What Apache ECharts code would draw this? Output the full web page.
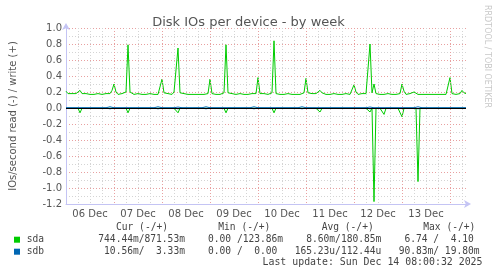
<!DOCTYPE html>
<html>
<head>
<meta charset="utf-8">
<script src="https://cdn.jsdelivr.net/npm/echarts@6/dist/echarts.min.js"></script>
<style>
html,body{margin:0;padding:0;background:#fff;}
#chart{width:497px;height:276px;}
</style>
</head>
<body>
<div id="chart"></div>
<script>
// ---- data (hourly samples, hour 0 = 06 Dec 00:00, hour 200 = 14 Dec 08:00) ----
const sdaWrite = [
  0.21,0.18,0.17,0.18,0.17,0.18,0.19,0.22,0.18,0.17,0.18,0.17,0.17,0.18,0.17,0.17,0.18,0.17,0.17,0.17,0.18,0.17,0.18,0.22,
  0.30,0.20,0.17,0.17,0.18,0.17,0.20,0.79,0.20,0.18,0.17,0.17,0.18,0.17,0.17,0.18,0.17,0.17,0.18,0.17,0.17,0.18,0.17,0.19,
  0.36,0.19,0.17,0.18,0.17,0.17,0.20,0.18,0.75,0.19,0.17,0.18,0.17,0.17,0.18,0.17,0.18,0.17,0.17,0.17,0.18,0.17,0.17,0.18,
  0.36,0.18,0.17,0.17,0.18,0.17,0.18,0.19,0.79,0.19,0.17,0.18,0.17,0.17,0.17,0.18,0.17,0.17,0.18,0.17,0.17,0.18,0.17,0.18,
  0.38,0.18,0.17,0.18,0.17,0.17,0.18,0.19,0.84,0.18,0.17,0.17,0.18,0.17,0.17,0.18,0.17,0.17,0.18,0.17,0.17,0.17,0.18,0.19,
  0.37,0.19,0.17,0.18,0.17,0.18,0.19,0.22,0.19,0.20,0.17,0.18,0.17,0.17,0.18,0.17,0.17,0.18,0.17,0.17,0.18,0.17,0.17,0.18,
  0.29,0.20,0.17,0.17,0.18,0.17,0.18,0.19,0.80,0.19,0.30,0.18,0.17,0.17,0.18,0.17,0.17,0.18,0.17,0.17,0.18,0.17,0.17,0.18,
  0.30,0.21,0.17,0.17,0.18,0.17,0.20,0.18,0.17,0.18,0.17,0.18,0.17,0.17,0.17,0.18,0.17,0.17,0.17,0.18,0.17,0.17,0.17,0.18,
  0.38,0.18,0.17,0.17,0.17,0.18,0.22,0.19,0.18
];
const sdaRead = [
  0.004,0.003,0.004,0.005,0.004,0.003,0.004,0.06,0.004,0.003,0.004,0.004,0.005,0.004,0.003,0.004,0.004,0.003,0.004,0.005,0.004,0.003,0.004,0.004,
  0.004,0.003,0.004,0.004,0.005,0.004,0.003,0.06,0.004,0.003,0.004,0.004,0.005,0.004,0.003,0.004,0.004,0.003,0.004,0.005,0.004,0.003,0.004,0.004,
  0.004,0.003,0.004,0.004,0.005,0.004,0.003,0.004,0.06,0.003,0.004,0.004,0.005,0.004,0.003,0.004,0.004,0.003,0.004,0.005,0.004,0.003,0.004,0.004,
  0.004,0.003,0.004,0.004,0.005,0.004,0.003,0.004,0.06,0.003,0.004,0.004,0.005,0.004,0.003,0.004,0.004,0.003,0.004,0.005,0.004,0.003,0.004,0.004,
  0.004,0.003,0.004,0.004,0.005,0.004,0.003,0.004,0.06,0.003,0.004,0.004,0.005,0.004,0.003,0.004,0.004,0.003,0.004,0.005,0.004,0.003,0.004,0.004,
  0.004,0.003,0.004,0.004,0.005,0.004,0.003,0.05,0.004,0.003,0.004,0.004,0.005,0.004,0.003,0.004,0.004,0.003,0.004,0.005,0.004,0.003,0.004,0.004,
  0.004,0.003,0.004,0.004,0.005,0.004,0.003,0.004,0.05,0.003,1.17,0.004,0.005,0.004,0.003,0.08,0.004,0.003,0.004,0.005,0.004,0.003,0.004,0.004,
  0.11,0.003,0.004,0.004,0.005,0.004,0.003,0.004,0.92,0.003,0.004,0.004,0.005,0.004,0.003,0.004,0.004,0.003,0.004,0.005,0.004,0.003,0.004,0.004,
  0.004,0.003,0.004,0.004,0.005,0.004,0.003,0.004,0.004
];
const sdbWrite = [
  0.003,0.003,0.003,0.003,0.003,0.003,0.003,0.003,0.003,0.003,0.003,0.003,0.003,0.003,0.003,0.003,0.003,0.003,0.003,0.003,0.003,0.003,0.015,0.003,
  0.003,0.003,0.003,0.003,0.003,0.003,0.003,0.003,0.003,0.003,0.003,0.003,0.003,0.003,0.003,0.003,0.003,0.003,0.003,0.003,0.003,0.003,0.015,0.003,
  0.003,0.003,0.003,0.003,0.003,0.003,0.003,0.003,0.012,0.003,0.003,0.003,0.003,0.003,0.003,0.003,0.003,0.003,0.003,0.003,0.003,0.003,0.015,0.003,
  0.003,0.003,0.003,0.003,0.003,0.003,0.003,0.003,0.003,0.003,0.003,0.003,0.003,0.003,0.003,0.003,0.003,0.003,0.003,0.003,0.003,0.003,0.015,0.003,
  0.003,0.003,0.003,0.003,0.003,0.003,0.003,0.003,0.003,0.003,0.003,0.003,0.003,0.003,0.003,0.003,0.003,0.003,0.003,0.003,0.003,0.003,0.015,0.003,
  0.003,0.003,0.003,0.003,0.003,0.003,0.003,0.003,0.003,0.003,0.003,0.003,0.003,0.003,0.003,0.003,0.003,0.003,0.003,0.003,0.003,0.003,0.003,0.015,
  0.003,0.003,0.003,0.003,0.003,0.003,0.003,0.003,0.012,0.003,0.003,0.003,0.003,0.003,0.003,0.003,0.003,0.003,0.003,0.003,0.003,0.003,0.003,0.015,
  0.003,0.003,0.003,0.003,0.003,0.003,0.003,0.003,0.015,0.003,0.003,0.003,0.003,0.003,0.003,0.003,0.003,0.003,0.003,0.003,0.003,0.003,0.003,0.015,
  0.003,0.003,0.003,0.003,0.003,0.003,0.003,0.003,0.003
];
const sdbRead = [
  0.001,0.001,0.001,0.001,0.001,0.001,0.001,0.001,0.001,0.001,0.001,0.001,0.001,0.001,0.001,0.001,0.001,0.001,0.001,0.001,0.001,0.001,0.010,0.001,
  0.001,0.001,0.001,0.001,0.001,0.001,0.001,0.001,0.001,0.001,0.001,0.001,0.001,0.001,0.001,0.001,0.001,0.001,0.001,0.001,0.001,0.001,0.010,0.001,
  0.001,0.001,0.001,0.001,0.001,0.001,0.001,0.001,0.010,0.001,0.001,0.001,0.001,0.001,0.001,0.001,0.001,0.001,0.001,0.001,0.001,0.001,0.010,0.001,
  0.001,0.001,0.001,0.001,0.001,0.001,0.001,0.001,0.001,0.001,0.001,0.001,0.001,0.001,0.001,0.001,0.001,0.001,0.001,0.001,0.001,0.001,0.010,0.001,
  0.001,0.001,0.001,0.001,0.001,0.001,0.001,0.001,0.001,0.001,0.001,0.001,0.001,0.001,0.001,0.001,0.001,0.001,0.001,0.001,0.001,0.001,0.010,0.001,
  0.001,0.001,0.001,0.001,0.001,0.001,0.001,0.001,0.001,0.001,0.001,0.001,0.001,0.001,0.001,0.001,0.001,0.001,0.001,0.001,0.001,0.001,0.001,0.010,
  0.001,0.001,0.001,0.001,0.001,0.001,0.001,0.001,0.010,0.001,0.001,0.001,0.001,0.001,0.001,0.001,0.001,0.001,0.001,0.001,0.001,0.001,0.001,0.010,
  0.001,0.001,0.001,0.001,0.001,0.001,0.001,0.001,0.010,0.001,0.001,0.001,0.001,0.001,0.001,0.001,0.001,0.001,0.001,0.001,0.001,0.001,0.001,0.010,
  0.001,0.001,0.001,0.001,0.001,0.001,0.001,0.001,0.001
];
const dayLabels = ['06 Dec','07 Dec','08 Dec','09 Dec','10 Dec','11 Dec','12 Dec','13 Dec'];
const dayLabelHours = [12,36,60,84,108,132,156,180];
const devices = ['sda','sdb'];
const deviceColors = ['#00cc00','#0066b3'];
const headers = ['Cur (-/+)','Min (-/+)','Avg (-/+)','Max (-/+)'];
const statsSda = ['744.44m/871.53m','  0.00 /123.86m','  8.60m/180.85m','  6.74 /  4.10 '];
const statsSdb = [' 10.56m/  3.33m','  0.00 /  0.00 ','165.23u/112.44u',' 90.83m/ 19.80m'];
const lastUpdate = 'Last update: Sun Dec 14 08:00:32 2025';

const toPairs = (arr, sign) => arr.map((v, i) => [i, sign * v]);

const chart = echarts.init(document.getElementById('chart'));
const TXT = '#555';
const FONT = 'DejaVu Sans';
const MONO = 'DejaVu Sans Mono';

const rows = [statsSda, statsSdb].map(r => r.join('  '));

const graphics = [
  {type:'text', x:487.5, y:5, rotation:-Math.PI/2,
   style:{text:'RRDTOOL / TOBI OETIKER', font:'8px ' + FONT, fill:'#c8c8c8', textAlign:'left', textVerticalAlign:'middle'}},
  {type:'text', x:116, y:227, style:{text:headers[0], font:'9.6px ' + MONO, fill:'#444', textVerticalAlign:'middle'}},
  {type:'text', x:218.3, y:227, style:{text:headers[1], font:'9.6px ' + MONO, fill:'#444', textVerticalAlign:'middle'}},
  {type:'text', x:321.7, y:227, style:{text:headers[2], font:'9.6px ' + MONO, fill:'#444', textVerticalAlign:'middle'}},
  {type:'text', x:423.3, y:227, style:{text:headers[3], font:'9.6px ' + MONO, fill:'#444', textVerticalAlign:'middle'}},
  {type:'text', x:482.5, y:262.7, style:{text:lastUpdate, font:'9.9px ' + MONO, fill:'#444', textAlign:'right', textVerticalAlign:'middle'}}
];
devices.forEach((d, i) => {
  const y = 239.7 + i * 12;
  graphics.push({type:'rect', shape:{x:14, y:y - 3, width:6, height:6}, style:{fill:deviceColors[i]}});
  graphics.push({type:'text', x:26.7, y:y, style:{text:d, font:'9.6px ' + MONO, fill:'#444', textVerticalAlign:'middle'}});
  graphics.push({type:'text', x:98.3, y:y, style:{text:rows[i], font:'9.6px ' + MONO, fill:'#444', textVerticalAlign:'middle'}});
});

const lineSeries = (name, data, color, z) => ({
  name, type:'line', data, showSymbol:false, symbol:'none', z,
  lineStyle:{color, width:1}, itemStyle:{color},
  animation:false, silent:true
});

chart.setOption({
  animation:false,
  backgroundColor:'#fff',
  title:{
    text:'Disk IOs per device - by week', left:'center', top:11,
    textStyle:{fontFamily:FONT, fontSize:13, fontWeight:'normal', color:TXT}
  },
  grid:{left:66, right:31, top:28, bottom:72, containLabel:false},
  xAxis:[{
    type:'value', min:0, max:200, interval:24,
    axisLine:{show:true, onZero:false, symbol:['none','arrow'], symbolSize:[6,7], symbolOffset:[0,5], lineStyle:{color:'#c4c4f4', width:1}},
    axisTick:{show:false},
    axisLabel:{customValues:dayLabelHours, margin:5, fontFamily:FONT, fontSize:10, color:TXT,
      formatter:v => dayLabels[dayLabelHours.indexOf(v)]},
    splitLine:{show:true, showMinLine:false, showMaxLine:false, lineStyle:{color:'#e8a0a0', type:[1,2], width:1}},
    z:3
  },{
    type:'value', min:0, max:200, interval:6, position:'bottom',
    axisLine:{show:false}, axisTick:{show:false}, axisLabel:{show:false},
    splitLine:{show:true, showMinLine:false, showMaxLine:false, lineStyle:{color:'#d4d4d4', type:[1,2], width:1}},
    z:1
  }],
  yAxis:{
    type:'value', min:-1.2, max:1.0, interval:0.2,
    name:'IOs/second read (-) / write (+)', nameLocation:'middle', nameRotate:90, nameGap:48,
    nameTextStyle:{fontFamily:FONT, fontSize:10, color:TXT},
    axisLine:{show:true, onZero:false, symbol:['none','arrow'], symbolSize:[6,7], symbolOffset:[0,5], lineStyle:{color:'#c4c4f4', width:1}},
    axisTick:{show:false},
    axisLabel:{margin:4, fontFamily:FONT, fontSize:10, color:TXT, formatter:v => v.toFixed(1)},
    splitLine:{show:true, showMinLine:false, lineStyle:{color:'#e8a0a0', type:[1,2], width:1}},
    minorTick:{show:false, splitNumber:2},
    minorSplitLine:{show:true, lineStyle:{color:'#d4d4d4', type:[1,2], width:1}}
  },
  graphic:graphics,
  series:[
    lineSeries('sda', toPairs(sdaWrite, 1), deviceColors[0], 2),
    lineSeries('sda', toPairs(sdaRead, -1), deviceColors[0], 2),
    lineSeries('sdb', toPairs(sdbWrite, 1), deviceColors[1], 3),
    Object.assign(lineSeries('sdb', toPairs(sdbRead, -1), deviceColors[1], 3), {
      markLine:{silent:true, symbol:['none','none'], label:{show:false}, animation:false,
        lineStyle:{color:'#000', width:1, type:'solid'}, data:[{yAxis:0}]}
    })
  ]
});
</script>
</body>
</html>
